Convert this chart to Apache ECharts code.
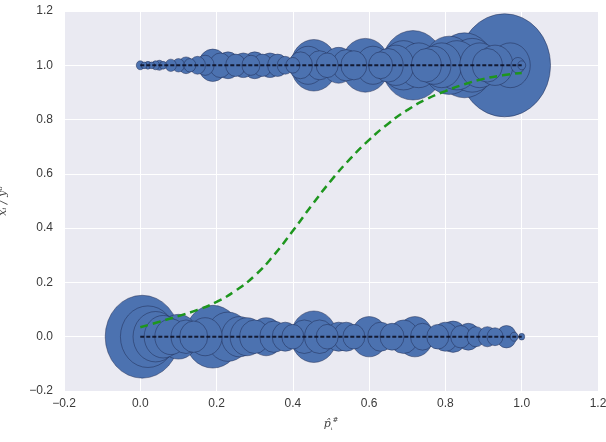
<!DOCTYPE html>
<html>
<head>
<meta charset="utf-8">
<script src="https://cdn.jsdelivr.net/npm/echarts@6/dist/echarts.min.js"></script>
<style>html,body{margin:0;padding:0;background:#fff;}#c{width:606px;height:442px;}</style>
</head>
<body>
<div id="c"></div>
<script>
// Ticks
var xTicks = [-0.2, 0.0, 0.2, 0.4, 0.6, 0.8, 1.0, 1.2];
var yTicks = [-0.2, 0.0, 0.2, 0.4, 0.6, 0.8, 1.0, 1.2];

// Bubbles at y = 1 (x position, marker diameter)
var topX = [0.00,0.01,0.02,0.03,0.04,0.05,0.06,0.08,0.10,0.12,0.13,0.15,0.17,0.19,0.21,0.23,0.25,0.27,0.29,0.30,0.32,0.34,0.36,0.38,0.40,0.42,0.44,0.455,0.47,0.49,0.52,0.54,0.56,0.59,0.61,0.63,0.65,0.67,0.69,0.715,0.73,0.75,0.77,0.79,0.81,0.83,0.85,0.87,0.89,0.91,0.93,0.955,0.97,0.99,1.00];
var topSize = [8,6,7,6,8,9,7,11,12,15,12,16,18,29,22,24,20,22,18,24,20,22,20,16,14,24,34,46,26,22,32,28,26,48,34,24,30,36,44,62,40,30,34,40,52,44,58,48,40,30,36,92,40,14,8];

// Bubbles at y = 0
var botX = [0.005,0.02,0.04,0.06,0.08,0.10,0.12,0.14,0.17,0.19,0.23,0.26,0.28,0.30,0.33,0.35,0.38,0.40,0.43,0.455,0.47,0.49,0.52,0.54,0.56,0.60,0.63,0.66,0.69,0.72,0.74,0.78,0.80,0.82,0.84,0.86,0.88,0.91,0.93,0.96,0.98,1.00];
var botSize = [74,55,45,38,32,40,30,28,34,56,44,36,34,30,34,28,26,22,30,46,30,22,26,26,22,36,26,24,30,36,24,22,26,28,20,24,18,18,16,20,8,6];

// Dashed calibration curve
var curveX = [0.0,0.05,0.1,0.15,0.2,0.25,0.3,0.35,0.4,0.45,0.5,0.55,0.6,0.65,0.7,0.75,0.8,0.85,0.9,0.95,1.0];
var curveY = [0.035,0.055,0.076,0.099,0.128,0.17,0.225,0.30,0.39,0.485,0.575,0.655,0.725,0.785,0.835,0.875,0.905,0.93,0.95,0.963,0.972];

function bubbles(xs, sizes, yv) {
  var d = xs.map(function (x, i) { return [x, yv, sizes[i]]; });
  d.sort(function (a, b) { return b[2] - a[2]; });
  return d;
}

var chart = echarts.init(document.getElementById('c'), null, {renderer: 'canvas'});
function fmt(v) { var s = Math.abs(v).toFixed(1); return v < -1e-9 ? '\u2212' + s : s; }

var labelStyle = {color: '#3a3a3a', fontSize: 12, fontFamily: 'Liberation Sans, Arial, sans-serif'};

chart.setOption({
  animation: false,
  backgroundColor: '#ffffff',
  grid: {left: 64, right: 8, top: 11, bottom: 51, show: true, backgroundColor: '#EAEAF2', borderWidth: 0,
         containLabel: false, outerBoundsMode: 'none'},
  xAxis: {
    type: 'value', min: xTicks[0], max: xTicks[xTicks.length - 1], interval: 0.2,
    axisLine: {show: false}, axisTick: {show: false},
    splitLine: {show: true, lineStyle: {color: '#ffffff', width: 1}},
    axisLabel: Object.assign({margin: 7, formatter: fmt, hideOverlap: false}, labelStyle),
    name: '{p|p\u0302}{s|\u1d62}{h|#}', nameLocation: 'middle', nameGap: 26,
    nameTextStyle: {rich: {
      p: {fontFamily: 'DejaVu Serif', fontStyle: 'italic', fontSize: 11, color: '#444'},
      s: {fontFamily: 'DejaVu Serif', fontSize: 8, color: '#444', verticalAlign: 'bottom'},
      h: {fontFamily: 'DejaVu Serif', fontSize: 7, color: '#444', padding: [0, 0, 8, 0]}
    }}
  },
  yAxis: {
    type: 'value', min: yTicks[0], max: yTicks[yTicks.length - 1], interval: 0.2,
    axisLine: {show: false}, axisTick: {show: false},
    splitLine: {show: true, lineStyle: {color: '#ffffff', width: 1}},
    axisLabel: Object.assign({margin: 11, formatter: fmt}, labelStyle),
    name: 'x\u1d62 / y\u1d48', nameLocation: 'middle', nameGap: 55,
    nameTextStyle: {fontFamily: 'DejaVu Serif', fontStyle: 'italic', fontSize: 11, color: '#444'}
  },
  series: [
    {
      type: 'scatter', data: bubbles(topX, topSize, 1.0), z: 2,
      symbolSize: function (v) { return [v[2], v[2] * 1.12]; },
      itemStyle: {color: '#4C72B0', borderColor: 'rgba(25,35,70,0.55)', borderWidth: 0.8, opacity: 1}
    },
    {
      type: 'scatter', data: bubbles(botX, botSize, 0.0), z: 2,
      symbolSize: function (v) { return [v[2], v[2] * 1.12]; },
      itemStyle: {color: '#4C72B0', borderColor: 'rgba(25,35,70,0.55)', borderWidth: 0.8, opacity: 1}
    },
    {
      type: 'line', data: [[0, 1], [1, 1]], z: 3, symbol: 'none', silent: true,
      lineStyle: {color: 'rgba(10,12,30,0.85)', width: 2, type: [4, 2]}
    },
    {
      type: 'line', data: [[0, 0], [1, 0]], z: 3, symbol: 'none', silent: true,
      lineStyle: {color: 'rgba(10,12,30,0.85)', width: 2, type: [4, 2]}
    },
    {
      type: 'line', data: curveX.map(function (x, i) { return [x, curveY[i]]; }), z: 4,
      symbol: 'none', smooth: true, silent: true,
      lineStyle: {color: '#1e961e', width: 2.5, type: [8, 5]}
    }
  ]
});
</script>
</body>
</html>
